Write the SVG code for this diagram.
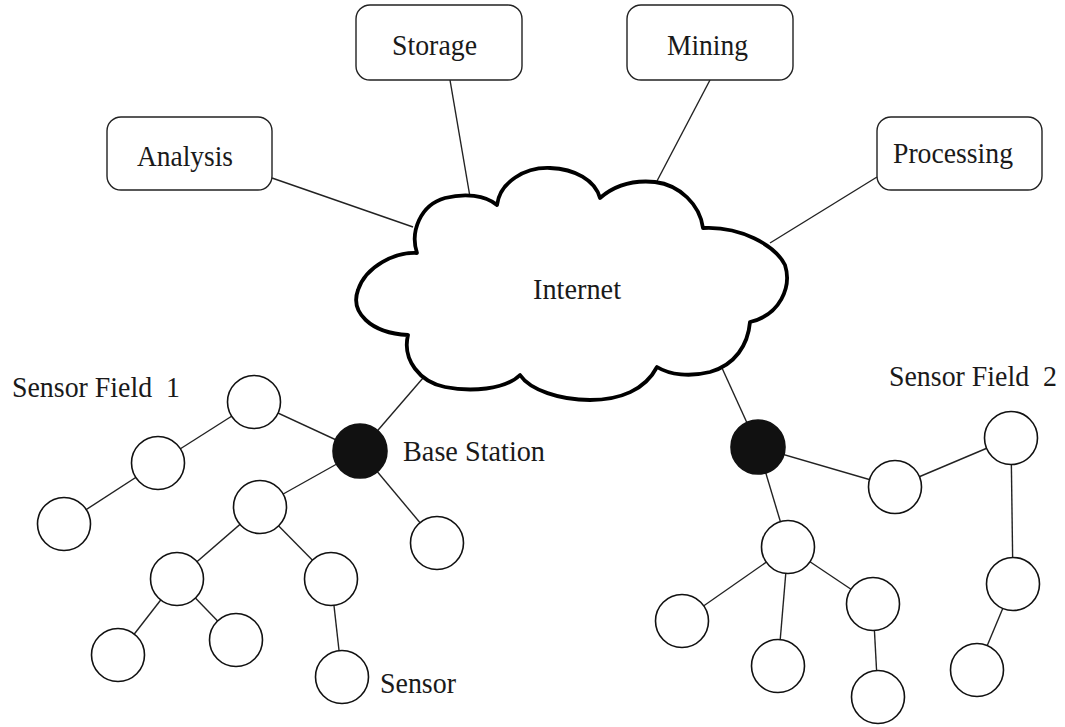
<svg xmlns="http://www.w3.org/2000/svg" width="1065" height="727" viewBox="0 0 1065 727">
<style>
.bg{fill:#fff}
.box{fill:#fff;stroke:#222;stroke-width:1.4}
.sensor{fill:#fff;stroke:#111;stroke-width:1.6}
.base{fill:#111;stroke:#111;stroke-width:1.6}
.cloud{fill:#fff;stroke:#000;stroke-width:3.8;stroke-linejoin:round}
.edge{stroke:#222;stroke-width:1.4;fill:none}
text{font-family:"Liberation Serif","Times New Roman",serif;font-size:29px;fill:#1a1a1a;white-space:pre}
</style>
<rect class="bg" x="0" y="0" width="1065" height="727"/>
<g id="connectors">
<line class="edge" x1="272" y1="178" x2="413" y2="227"/>
<line class="edge" x1="450" y1="80" x2="470" y2="197"/>
<line class="edge" x1="710" y1="80" x2="657" y2="181"/>
<line class="edge" x1="877" y1="177" x2="770" y2="243"/>
<line class="edge" x1="423" y1="378" x2="360" y2="451"/>
<line class="edge" x1="722" y1="368" x2="758" y2="447"/>
<line class="edge" x1="360" y1="451" x2="254" y2="402"/>
<line class="edge" x1="254" y1="402" x2="158" y2="463"/>
<line class="edge" x1="158" y1="463" x2="64" y2="524"/>
<line class="edge" x1="360" y1="451" x2="260" y2="507"/>
<line class="edge" x1="260" y1="507" x2="177" y2="579"/>
<line class="edge" x1="260" y1="507" x2="331" y2="579"/>
<line class="edge" x1="177" y1="579" x2="118" y2="655"/>
<line class="edge" x1="177" y1="579" x2="236" y2="640"/>
<line class="edge" x1="331" y1="579" x2="342" y2="677"/>
<line class="edge" x1="360" y1="451" x2="437" y2="543"/>
<line class="edge" x1="758" y1="447" x2="895" y2="487"/>
<line class="edge" x1="895" y1="487" x2="1011" y2="438"/>
<line class="edge" x1="1011" y1="438" x2="1013" y2="584"/>
<line class="edge" x1="1013" y1="584" x2="977" y2="670"/>
<line class="edge" x1="758" y1="447" x2="788" y2="547"/>
<line class="edge" x1="788" y1="547" x2="682" y2="621"/>
<line class="edge" x1="788" y1="547" x2="778" y2="666"/>
<line class="edge" x1="788" y1="547" x2="873" y2="604"/>
<line class="edge" x1="873" y1="604" x2="878" y2="697"/>
</g>
<g id="internet">
<path class="cloud" d="M408,335 C370,333 350,312 358,290 C366,266 395,252 417,253 C410,232 420,205 445,198 C465,193 485,195 497,205 C500,182 525,167 550,168 C575,169 595,180 600,198 C615,185 635,180 655,182 C680,185 700,205 703,228 C740,226 775,245 785,265 C792,287 780,315 750,322 C748,345 735,365 710,372 C690,377 670,375 657,367 C645,390 620,400 590,400 C560,400 530,390 520,375 C505,390 470,392 445,387 C420,382 402,360 408,335 Z"/>
<text x="533" y="299" textLength="88" lengthAdjust="spacingAndGlyphs">Internet</text>
</g>
<g id="storage">
<rect class="box" x="356" y="5" width="166" height="75" rx="14"/>
<text x="392" y="55" textLength="85" lengthAdjust="spacingAndGlyphs">Storage</text>
</g>
<g id="mining">
<rect class="box" x="627" y="5" width="166" height="75" rx="14"/>
<text x="667" y="55" textLength="81" lengthAdjust="spacingAndGlyphs">Mining</text>
</g>
<g id="analysis">
<rect class="box" x="107" y="117" width="165" height="73" rx="14"/>
<text x="137" y="166" textLength="96" lengthAdjust="spacingAndGlyphs">Analysis</text>
</g>
<g id="processing">
<rect class="box" x="877" y="117" width="165" height="73" rx="14"/>
<text x="893" y="163" textLength="120" lengthAdjust="spacingAndGlyphs">Processing</text>
</g>
<g id="field1-label"><text x="12" y="397" textLength="168" lengthAdjust="spacingAndGlyphs">Sensor Field&#160; 1</text></g>
<g id="field2-label"><text x="889" y="386" textLength="168" lengthAdjust="spacingAndGlyphs">Sensor Field&#160; 2</text></g>
<g id="base-station-1">
<circle class="base" cx="360" cy="451" r="27"/>
<text x="403" y="461" textLength="142" lengthAdjust="spacingAndGlyphs">Base Station</text>
</g>
<g id="s1a"><circle class="sensor" cx="254" cy="402" r="26.5"/></g>
<g id="s1b"><circle class="sensor" cx="158" cy="463" r="26.5"/></g>
<g id="s1c"><circle class="sensor" cx="64" cy="524" r="26.5"/></g>
<g id="s1d"><circle class="sensor" cx="260" cy="507" r="26.5"/></g>
<g id="s1e"><circle class="sensor" cx="177" cy="579" r="26.5"/></g>
<g id="s1f"><circle class="sensor" cx="331" cy="579" r="26.5"/></g>
<g id="s1g"><circle class="sensor" cx="118" cy="655" r="26.5"/></g>
<g id="s1h"><circle class="sensor" cx="236" cy="640" r="26.5"/></g>
<g id="s1i">
<circle class="sensor" cx="342" cy="677" r="26.5"/>
<text x="380" y="693" textLength="76" lengthAdjust="spacingAndGlyphs">Sensor</text>
</g>
<g id="s1j"><circle class="sensor" cx="437" cy="543" r="26.5"/></g>
<g id="base-station-2"><circle class="base" cx="758" cy="447" r="27"/></g>
<g id="s2k"><circle class="sensor" cx="895" cy="487" r="26.5"/></g>
<g id="s2l"><circle class="sensor" cx="1011" cy="438" r="26.5"/></g>
<g id="s2m"><circle class="sensor" cx="788" cy="547" r="26.5"/></g>
<g id="s2n"><circle class="sensor" cx="1013" cy="584" r="26.5"/></g>
<g id="s2o"><circle class="sensor" cx="682" cy="621" r="26.5"/></g>
<g id="s2p"><circle class="sensor" cx="778" cy="666" r="26.5"/></g>
<g id="s2q"><circle class="sensor" cx="873" cy="604" r="26.5"/></g>
<g id="s2r"><circle class="sensor" cx="878" cy="697" r="26.5"/></g>
<g id="s2s"><circle class="sensor" cx="977" cy="670" r="26.5"/></g>
</svg>
